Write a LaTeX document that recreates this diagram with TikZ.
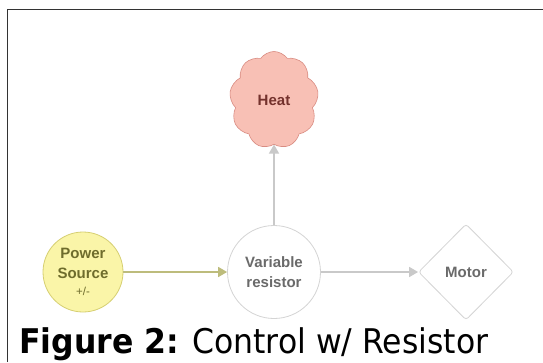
\documentclass[tikz,border=0pt]{standalone}
\usepackage{fontspec}
\setmainfont{Liberation Sans}
\newfontfamily\capfont{DejaVu Sans}
\usetikzlibrary{shapes.geometric,shapes.symbols,arrows.meta}
\definecolor{psfill}{HTML}{FAF5A8}
\definecolor{psdraw}{HTML}{D6CF72}
\definecolor{pstext}{HTML}{6E6C2C}
\definecolor{psarrow}{HTML}{BDBC7C}
\definecolor{heatfill}{HTML}{F8C0B5}
\definecolor{heatdraw}{HTML}{D98C82}
\definecolor{heattext}{HTML}{74322D}
\definecolor{gdraw}{HTML}{D4D4D4}
\definecolor{gtext}{HTML}{6A6A6A}
\definecolor{garrow}{HTML}{C9C9C9}
\tikzset{
  nodefont/.style={font=\bfseries\fontsize{15}{20}\selectfont},
  psnode/.style={circle, draw=psdraw, fill=psfill, line width=0.8pt, minimum size=80pt, inner sep=0pt, align=center, text=pstext, nodefont},
  resnode/.style={circle, draw=gdraw, fill=white, line width=0.8pt, minimum size=93pt, inner sep=0pt, align=center, text=gtext, nodefont},
  motnode/.style={diamond, draw=gdraw, fill=white, line width=0.8pt, minimum width=95pt, minimum height=96pt, inner sep=0pt, rounded corners=3pt, text=gtext, nodefont},
  heatnode/.style={cloud, cloud puffs=9, cloud puff arc=110, draw=heatdraw, fill=heatfill, line width=0.6pt, minimum width=89pt, minimum height=97pt, aspect=0.9, inner sep=0pt, text=heattext, nodefont},
  conn/.style={line width=1.6pt, -{Triangle[length=9pt,width=10pt]}},
}
\begin{document}
\begin{tikzpicture}[x=1pt,y=-1pt]
\useasboundingbox (0,0) rectangle (543,362);
\fill[white] (0,0) rectangle (543,362);
\draw[line width=1pt, black!80] (7.5,362) -- (7.5,9.5) -- (543,9.5);
\node[psnode] (ps) at (83,272) {Power\\Source\\[-3pt]{\mdseries\fontsize{11.5}{13}\selectfont +/-}};
\node[resnode] (res) at (274,272) {Variable\\resistor};
\node[motnode] (mot) at (466,272) {Motor};
\node[heatnode] (heat) at (274,100) {Heat};
\draw[conn, psarrow] (ps) -- (res);
\draw[conn, garrow] (res) -- (mot);
\draw[conn, garrow] (res) -- (heat);
\node[anchor=base west, inner sep=0pt, font=\capfont\fontsize{31.5}{33}\selectfont] (cap) at (19,353) {\scalebox{1}[1.08]{\textbf{Figure 2:} Control w/ Resistor}};
\end{tikzpicture}
\end{document}
